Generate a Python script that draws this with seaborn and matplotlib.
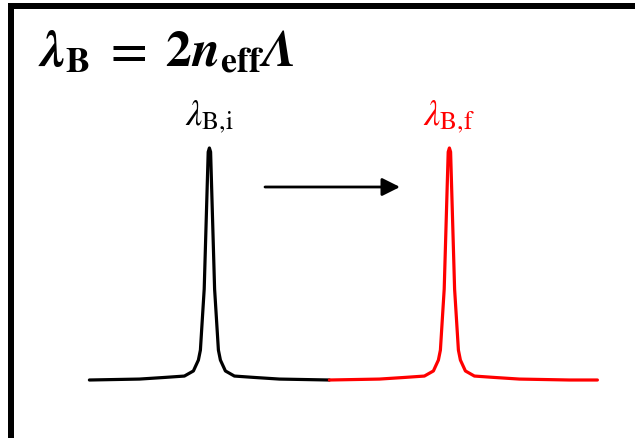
import matplotlib
matplotlib.use("Agg")
import matplotlib.pyplot as plt
from matplotlib.lines import Line2D
import seaborn as sns
import pandas as pd

# ---- data (wavelength in nm, normalised reflected intensity) ----
wl_initial = [1547.0, 1548.25, 1548.875, 1549.375, 1549.6, 1549.725, 1549.775, 1549.87, 1549.97,
              1550.0, 1550.03, 1550.13, 1550.225, 1550.275, 1550.4, 1550.625, 1551.125, 1551.75, 1553.0]
int_initial = [0.0, 0.004, 0.011, 0.017, 0.039, 0.086, 0.129, 0.392, 0.983,
               1.0, 0.983, 0.392, 0.129, 0.086, 0.039, 0.017, 0.011, 0.004, 0.0]

wl_final = [1553.0, 1554.25, 1554.875, 1555.375, 1555.6, 1555.725, 1555.775, 1555.87, 1555.97,
            1556.0, 1556.03, 1556.13, 1556.225, 1556.275, 1556.4, 1556.625, 1557.125, 1557.75,
            1559.0, 1559.7]
int_final = [0.0, 0.004, 0.011, 0.017, 0.039, 0.086, 0.129, 0.392, 0.983,
             1.0, 0.983, 0.392, 0.129, 0.086, 0.039, 0.017, 0.011, 0.004,
             0.0, 0.0]

label_initial = r"$\lambda_{\mathrm{B{,}i}}$"
label_final = r"$\lambda_{\mathrm{B{,}f}}$"
formula = r"$\mathbfit{\lambda}_{\mathbf{B}}\;\mathbf{=}\;\mathbf{2}\mathbfit{n}_{\mathbf{eff}}\mathbfit{\Lambda}$"
peak_initial = 1550.0
peak_final = 1556.0

sns.set_style("white")
plt.rcParams["mathtext.fontset"] = "stix"
plt.rcParams["text.color"] = "black"

fig = plt.figure(figsize=(6.35, 4.39), dpi=100)
ax = fig.add_axes([0, 0, 1, 1])

df_i = pd.DataFrame({"wl": wl_initial, "I": int_initial})
df_f = pd.DataFrame({"wl": wl_final, "I": int_final})
sns.lineplot(data=df_i, x="wl", y="I", color="black", lw=2.3, ax=ax, sort=False)
sns.lineplot(data=df_f, x="wl", y="I", color="red", lw=2.3, ax=ax, sort=False)

px = 0.025  # nm per pixel
x0 = peak_initial - 209.4 * px
ax.set_xlim(x0, x0 + 635 * px)
ax.set_ylim((381 - 439) / 232, 381 / 232)
ax.axis("off")

# arrow
ay = (381 - 188) / 232
ax.annotate("", xy=(x0 + 400 * px, ay), xytext=(x0 + 265 * px, ay),
            arrowprops=dict(arrowstyle="-|>", lw=2.0, color="black",
                            mutation_scale=27, shrinkA=0, shrinkB=0))

# peak labels
ly = (381 - 135) / 232
ax.text(peak_initial, ly, label_initial, color="black", fontsize=26,
        ha="center", va="bottom")
ax.text(peak_final, ly, label_final, color="red", fontsize=26,
        ha="center", va="bottom")

# formula
fig.text(38 / 635, 1 - 78 / 439, formula, color="black", fontsize=37,
         ha="left", va="bottom")

# border (top and left)
lw_b = 6 * 72 / 100
fig.add_artist(Line2D([11 / 635, 1.0], [1 - 7 / 439, 1 - 7 / 439], color="black",
                      lw=lw_b, solid_capstyle="projecting", transform=fig.transFigure))
fig.add_artist(Line2D([11 / 635, 11 / 635], [1 - 7 / 439, 0.0], color="black",
                      lw=lw_b, solid_capstyle="projecting", transform=fig.transFigure))

fig.savefig("out.png", dpi=100)
